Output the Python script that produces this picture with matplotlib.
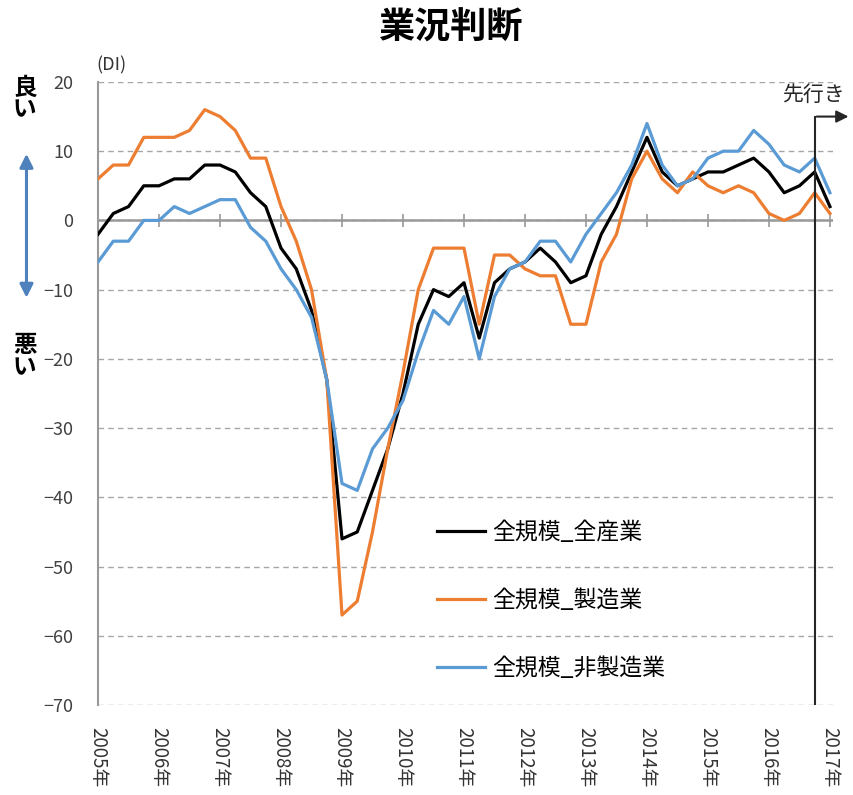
import matplotlib
matplotlib.use("Agg")
import matplotlib.pyplot as plt
import numpy as np

plt.rcParams['font.family'] = ['Noto Sans CJK JP', 'DejaVu Sans']

# 短観 業況判断DI (四半期, 2005年3月 - 2017年3月先行き)
all_industries = [-2, 1, 2, 5, 5, 6, 6, 8, 8, 7, 4, 2,
                  -4, -7, -13, -23, -46, -45, -39, -33, -25, -15, -10, -11,
                  -9, -17, -9, -7, -6, -4, -6, -9, -8, -2, 2, 7,
                  12, 7, 5, 6, 7, 7, 8, 9, 7, 4, 5, 7, 2]
manufacturing = [6, 8, 8, 12, 12, 12, 13, 16, 15, 13, 9, 9,
                 2, -3, -10, -23, -57, -55, -45, -33, -22, -10, -4, -4,
                 -4, -15, -5, -5, -7, -8, -8, -15, -15, -6, -2, 6,
                 10, 6, 4, 7, 5, 4, 5, 4, 1, 0, 1, 4, 1]
non_manufacturing = [-6, -3, -3, 0, 0, 2, 1, 2, 3, 3, -1, -3,
                     -7, -10, -14, -23, -38, -39, -33, -30, -26, -19, -13, -15,
                     -11, -20, -11, -7, -6, -3, -3, -6, -2, 1, 4, 8,
                     14, 8, 5, 6, 9, 10, 10, 13, 11, 8, 7, 9, 4]
series_names = ["全規模_全産業", "全規模_製造業", "全規模_非製造業"]
years = ["%d年" % y for y in range(2005, 2018)]
forecast_start = 47

colors = ["#000000", "#ED7D31", "#5B9BD5"]
x = np.arange(len(all_industries))

fig = plt.figure(figsize=(8.54, 7.95), dpi=100)
ax = fig.add_axes([0.1148, 0.1132, 0.9754 - 0.1148, 0.8969 - 0.1132])

for vals, name, c in zip([all_industries, manufacturing, non_manufacturing], series_names, colors):
    ax.plot(x, vals, color=c, lw=2.3, label=name, zorder=3)

ax.set_xlim(0, 48.2)
ax.set_ylim(-70, 20)
ax.set_yticks(np.arange(-70, 21, 10))
ax.yaxis.grid(True, linestyle=(0, (4, 3)), color="#a6a6a6", lw=1.0)
ax.axhline(0, color="#999999", lw=1.8, zorder=2)
year_ticks = np.arange(0, len(all_industries), 4)
ax.vlines(year_ticks, -0.9, 0.9, color="#999999", lw=1.2, zorder=2)

ax.set_xticks(year_ticks)
ax.set_xticklabels(years, rotation=-90, fontsize=13.5, color="#333333", va="top")
ax.tick_params(axis="x", length=0, pad=16)
ax.tick_params(axis="y", length=0, pad=18, labelsize=13, labelcolor="#404040")
for s in ["top", "right", "bottom"]:
    ax.spines[s].set_visible(False)
ax.spines["left"].set_color("#999999")
ax.spines["left"].set_linewidth(1.5)

# 先行き
ax.plot([forecast_start, forecast_start], [-70, 15], color="#262626", lw=1.5, zorder=4)
ax.annotate("", xy=(49.4, 15), xytext=(forecast_start - 0.05, 15),
            arrowprops=dict(arrowstyle="-|>", color="#262626", lw=1.5, mutation_scale=18),
            annotation_clip=False)
ax.text(forecast_start - 0.1, 16.6, "先行き", fontsize=15, ha="center", va="bottom",
        color="#262626", clip_on=False)

leg = ax.legend(loc="upper left", bbox_to_anchor=(0.433, 0.329), frameon=False,
                fontsize=16.5, handlelength=2.1, labelspacing=1.97, handletextpad=0.3)

fig.text(0.527, 0.965, "業況判断", fontsize=26, fontweight="bold", ha="center", va="center")
fig.text(0.113, 0.918, "(DI)", fontsize=13, ha="left", va="center", color="#333333")
fig.text(0.029, 0.876, "良\nい", fontsize=17, fontweight="bold", ha="center", va="center", linespacing=0.9)
fig.text(0.029, 0.552, "悪\nい", fontsize=17, fontweight="bold", ha="center", va="center", linespacing=0.9)
fig.patches.append(matplotlib.patches.FancyArrowPatch(
    (0.031, 0.622), (0.031, 0.81), transform=fig.transFigure, arrowstyle="<|-|>",
    mutation_scale=20, color="#4F81BD", lw=2.2))

fig.savefig("out.png", dpi=100)
